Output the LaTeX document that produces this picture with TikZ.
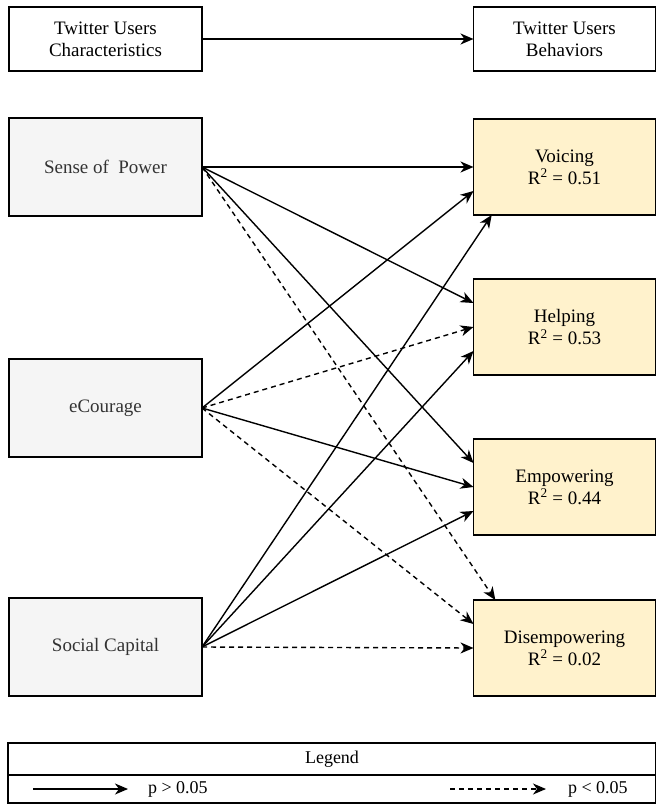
\documentclass[tikz,border=0pt]{standalone}
\usepackage{fontspec}
\setmainfont{Liberation Serif}
\usetikzlibrary{arrows.meta,calc}
\definecolor{leftfill}{HTML}{F5F5F5}
\definecolor{lefttext}{HTML}{333333}
\definecolor{rightfill}{HTML}{FFF2CC}
\begin{document}
\begin{tikzpicture}[x=1pt,y=-1pt,
  every node/.style={inner sep=0pt, outer sep=0pt},
  box/.style={draw=black, line width=1.4pt, rectangle, align=center, font=\fontsize{19}{22}\selectfont},
  topbox/.style={box, fill=white, minimum height=64pt},
  leftbox/.style={box, fill=leftfill, text=lefttext, minimum width=193pt, minimum height=98pt},
  rightbox/.style={box, fill=rightfill, minimum width=182pt, minimum height=96pt},
  legbox/.style={draw=black, line width=1.4pt, rectangle, minimum width=648pt, font=\fontsize{18}{20}\selectfont},
  link/.style={line width=1.4pt, -{Stealth[length=13pt,width=11pt,inset=4pt]}},
  dlink/.style={link, dash pattern=on 5pt off 4pt},
  legtext/.style={font=\fontsize{18}{20}\selectfont, anchor=west}
]
\useasboundingbox (0,0) rectangle (656,809);

% header boxes
\node[topbox, minimum width=193pt] (tc) at (105.5,39) {Twitter Users\\Characteristics};
\node[topbox, minimum width=182pt] (tb) at (564.5,39) {Twitter Users\\Behaviors};
\draw[link] (tc.east) -- (tb.west);

% left boxes
\node[leftbox] (sp) at (105.5,167) {Sense of~ Power};
\node[leftbox] (ec) at (105.5,408) {eCourage};
\node[leftbox] (sc) at (105.5,647) {Social Capital};

% right boxes
\node[rightbox] (vo) at (564.5,167) {Voicing\\R\textsuperscript{2} = 0.51};
\node[rightbox] (he) at (564.5,327) {Helping\\R\textsuperscript{2} = 0.53};
\node[rightbox] (em) at (564.5,487) {Empowering\\R\textsuperscript{2} = 0.44};
\node[rightbox] (di) at (564.5,648) {Disempowering\\R\textsuperscript{2} = 0.02};

% Sense of Power
\draw[link] (sp.east) -- (vo.west);
\draw[link] (sp.east) -- ($(he.north west)!0.25!(he.south west)$);
\draw[link] (sp.east) -- ($(em.north west)!0.25!(em.south west)$);
\draw[dlink] (sp.east) -- ($(di.north west)!0.12!(di.north east)$);

% eCourage
\draw[link] (ec.east) -- ($(vo.north west)!0.75!(vo.south west)$);
\draw[dlink] (ec.east) -- (he.west);
\draw[link] (ec.east) -- (em.west);
\draw[dlink] (ec.east) -- ($(di.north west)!0.25!(di.south west)$);

% Social Capital
\draw[link] (sc.east) -- ($(vo.south west)!0.1!(vo.south east)$);
\draw[link] (sc.east) -- ($(he.north west)!0.75!(he.south west)$);
\draw[link] (sc.east) -- ($(em.north west)!0.75!(em.south west)$);
\draw[dlink] (sc.east) -- (di.west);

% legend
\node[legbox, minimum height=32pt] (lh) at (332,759) {Legend};
\node[legbox, minimum height=28pt, anchor=north] (lr) at (lh.south) {};
\coordinate (s1) at (33,789);
\coordinate (s2) at (128,789);
\coordinate (d1) at (450,789);
\coordinate (d2) at (546,789);
\draw[link] (s1) -- (s2);
\node[legtext] (pg) at (148,789) {p > 0.05};
\draw[dlink] (d1) -- (d2);
\node[legtext] (pl) at (568,789) {p < 0.05};
\end{tikzpicture}
\end{document}
